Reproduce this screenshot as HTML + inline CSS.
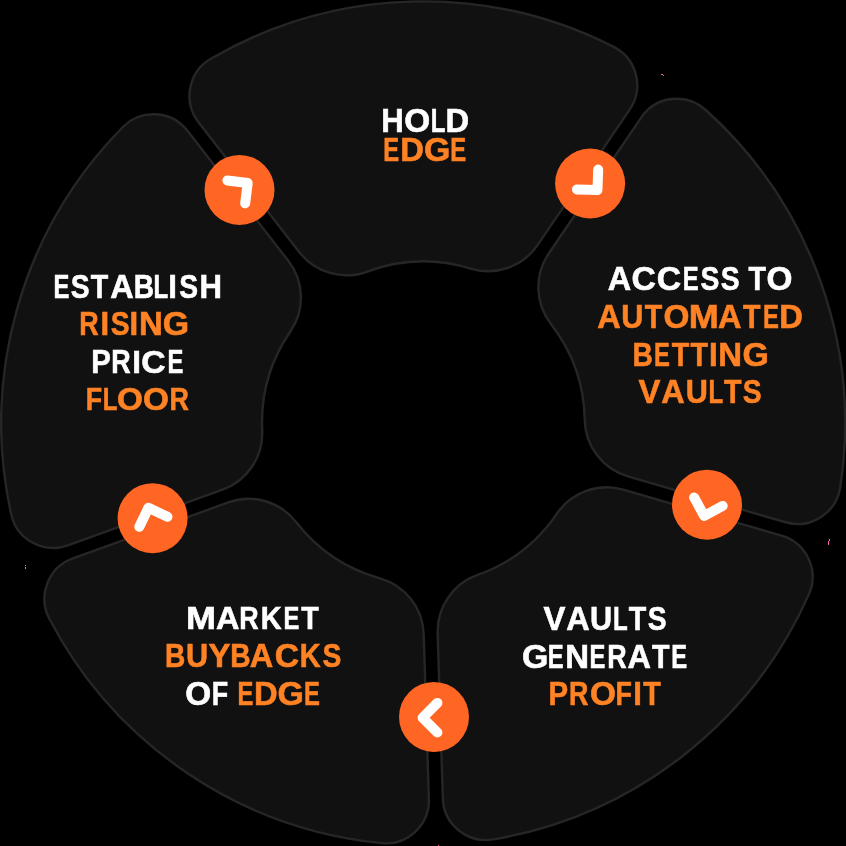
<!DOCTYPE html>
<html><head><meta charset="utf-8"><style>
html,body{margin:0;padding:0;background:#000;}
svg{display:block;will-change:transform;}
text{font-family:"Liberation Sans",sans-serif;font-weight:700;}
</style></head><body>
<svg width="846" height="846" viewBox="0 0 846 846">
<rect width="846" height="846" fill="#000"/>
<g fill="#111111" stroke="#262626" stroke-width="2.4">
<path d="M808.86 594.37 A421.9 421.9 0 0 1 492.94 839.40 A43 43 0 0 1 442.85 798.34 L437.67 633.37 A60.0 60.0 0 0 1 477.52 574.96 A161.4 161.4 0 0 0 556.92 513.57 A60.0 60.0 0 0 1 623.30 489.66 L781.55 535.64 A43 43 0 0 1 808.86 594.37 Z"/>
<path d="M381.65 843.15 A421.9 421.9 0 0 1 49.32 618.78 A43 43 0 0 1 72.86 558.40 L228.35 502.42 A60.0 60.0 0 0 1 296.02 522.02 A161.4 161.4 0 0 0 379.89 578.33 A60.0 60.0 0 0 1 423.69 634.22 L428.87 799.01 A43 43 0 0 1 381.65 843.15 Z"/>
<path d="M11.20 514.15 A421.9 421.9 0 0 1 122.87 126.99 A43 43 0 0 1 187.45 130.84 L288.28 260.82 A60.0 60.0 0 0 1 290.34 331.55 A161.4 161.4 0 0 0 262.17 430.38 A60.0 60.0 0 0 1 222.56 489.62 L67.76 545.35 A43 43 0 0 1 11.20 514.15 Z"/>
<path d="M210.84 58.74 A421.9 421.9 0 0 1 613.65 46.83 A43 43 0 0 1 629.80 109.37 L537.70 244.88 A60.0 60.0 0 0 1 470.55 268.54 A161.4 161.4 0 0 0 367.40 271.53 A60.0 60.0 0 0 1 299.18 252.03 L198.51 122.25 A43 43 0 0 1 210.84 58.74 Z"/>
<path d="M705.50 109.76 A421.9 421.9 0 0 1 840.18 487.51 A43 43 0 0 1 785.69 522.26 L628.02 476.46 A60.0 60.0 0 0 1 584.77 419.94 A161.4 161.4 0 0 0 550.96 324.01 A60.0 60.0 0 0 1 548.76 253.53 L641.17 117.55 A43 43 0 0 1 705.50 109.76 Z"/>
</g>
<g fill="#ff6624">
<circle cx="239.5" cy="189.9" r="35.0"/>
<circle cx="590.1" cy="183.5" r="35.0"/>
<circle cx="707.0" cy="504.7" r="35.0"/>
<circle cx="434.0" cy="716.9" r="35.0"/>
<circle cx="152.6" cy="518.2" r="35.0"/>
</g>
<g fill="none" stroke="#fff" stroke-width="10.0" stroke-linecap="round" stroke-linejoin="round">
<path d="M245.15 203.40 L247.71 183.07 L227.39 180.50"/>
<path d="M576.92 189.40 L597.46 190.12 L598.18 169.58"/>
<path d="M694.13 497.45 L704.17 515.95 L722.67 505.91"/>
<path d="M437.40 702.90 L422.60 717.70 L437.40 732.50"/>
<path d="M167.46 516.81 L148.42 507.73 L139.34 526.77"/>
</g>
<g>
<text transform="translate(381.16 132.20) scale(0.9484 1)" font-size="32.84" fill="#ffffff" stroke="#ffffff" stroke-width="0.600">H</text>
<text transform="translate(404.14 132.20) scale(1.0155 1)" font-size="32.84" fill="#ffffff" stroke="#ffffff" stroke-width="0.600">O</text>
<text transform="translate(430.77 132.20) scale(0.7324 1)" font-size="32.84" fill="#ffffff" stroke="#ffffff" stroke-width="0.600">L</text>
<text transform="translate(445.47 132.20) scale(0.9970 1)" font-size="32.84" fill="#ffffff" stroke="#ffffff" stroke-width="0.600">D</text>
<text transform="translate(383.23 160.80) scale(0.7215 1)" font-size="32.99" fill="#ff8224" stroke="#ff8224" stroke-width="0.600">E</text>
<text transform="translate(400.22 160.80) scale(0.9929 1)" font-size="32.99" fill="#ff8224" stroke="#ff8224" stroke-width="0.600">D</text>
<text transform="translate(423.98 160.80) scale(1.0273 1)" font-size="32.99" fill="#ff8224" stroke="#ff8224" stroke-width="0.600">G</text>
<text transform="translate(450.33 160.80) scale(0.7215 1)" font-size="32.99" fill="#ff8224" stroke="#ff8224" stroke-width="0.600">E</text>
<text transform="translate(53.44 298.00) scale(0.7337 1)" font-size="32.42" fill="#ffffff" stroke="#ffffff" stroke-width="0.600">E</text>
<text transform="translate(70.78 298.00) scale(0.8706 1)" font-size="32.42" fill="#ffffff" stroke="#ffffff" stroke-width="0.600">S</text>
<text transform="translate(90.70 298.00) scale(0.8828 1)" font-size="32.42" fill="#ffffff" stroke="#ffffff" stroke-width="0.600">T</text>
<text transform="translate(110.35 298.00) scale(1.0014 1)" font-size="32.42" fill="#ffffff" stroke="#ffffff" stroke-width="0.600">A</text>
<text transform="translate(133.79 298.00) scale(0.8680 1)" font-size="32.42" fill="#ffffff" stroke="#ffffff" stroke-width="0.600">B</text>
<text transform="translate(153.47 298.00) scale(0.7416 1)" font-size="32.42" fill="#ffffff" stroke="#ffffff" stroke-width="0.600">L</text>
<text transform="translate(168.37 298.00) scale(0.9611 1)" font-size="32.42" fill="#ffffff" stroke="#ffffff" stroke-width="0.600">I</text>
<text transform="translate(179.13 298.00) scale(0.8706 1)" font-size="32.42" fill="#ffffff" stroke="#ffffff" stroke-width="0.600">S</text>
<text transform="translate(199.46 298.00) scale(0.9604 1)" font-size="32.42" fill="#ffffff" stroke="#ffffff" stroke-width="0.600">H</text>
<text transform="translate(79.34 335.20) scale(0.8279 1)" font-size="32.42" fill="#ff8224" stroke="#ff8224" stroke-width="0.600">R</text>
<text transform="translate(100.42 335.20) scale(0.9611 1)" font-size="32.42" fill="#ff8224" stroke="#ff8224" stroke-width="0.600">I</text>
<text transform="translate(110.68 335.20) scale(0.8706 1)" font-size="32.42" fill="#ff8224" stroke="#ff8224" stroke-width="0.600">S</text>
<text transform="translate(129.52 335.20) scale(0.9611 1)" font-size="32.42" fill="#ff8224" stroke="#ff8224" stroke-width="0.600">I</text>
<text transform="translate(139.01 335.20) scale(1.0163 1)" font-size="32.42" fill="#ff8224" stroke="#ff8224" stroke-width="0.600">N</text>
<text transform="translate(162.83 335.20) scale(1.0447 1)" font-size="32.42" fill="#ff8224" stroke="#ff8224" stroke-width="0.600">G</text>
<text transform="translate(91.17 373.00) scale(0.9107 1)" font-size="32.28" fill="#ffffff" stroke="#ffffff" stroke-width="0.600">P</text>
<text transform="translate(111.24 373.00) scale(0.8315 1)" font-size="32.28" fill="#ffffff" stroke="#ffffff" stroke-width="0.600">R</text>
<text transform="translate(132.27 373.00) scale(0.9647 1)" font-size="32.28" fill="#ffffff" stroke="#ffffff" stroke-width="0.600">I</text>
<text transform="translate(141.24 373.00) scale(1.0450 1)" font-size="32.28" fill="#ffffff" stroke="#ffffff" stroke-width="0.600">C</text>
<text transform="translate(167.54 373.00) scale(0.7368 1)" font-size="32.28" fill="#ffffff" stroke="#ffffff" stroke-width="0.600">E</text>
<text transform="translate(85.67 410.40) scale(0.8365 1)" font-size="32.00" fill="#ff8224" stroke="#ff8224" stroke-width="0.600">F</text>
<text transform="translate(102.78 410.40) scale(0.7511 1)" font-size="32.00" fill="#ff8224" stroke="#ff8224" stroke-width="0.600">L</text>
<text transform="translate(116.95 410.40) scale(1.0417 1)" font-size="32.00" fill="#ff8224" stroke="#ff8224" stroke-width="0.600">O</text>
<text transform="translate(143.10 410.40) scale(1.0417 1)" font-size="32.00" fill="#ff8224" stroke="#ff8224" stroke-width="0.600">O</text>
<text transform="translate(169.49 410.40) scale(0.8386 1)" font-size="32.00" fill="#ff8224" stroke="#ff8224" stroke-width="0.600">R</text>
<text transform="translate(607.64 290.40) scale(0.9806 1)" font-size="33.13" fill="#ffffff" stroke="#ffffff" stroke-width="0.600">A</text>
<text transform="translate(631.38 290.40) scale(1.0190 1)" font-size="33.13" fill="#ffffff" stroke="#ffffff" stroke-width="0.600">C</text>
<text transform="translate(656.63 290.40) scale(1.0190 1)" font-size="33.13" fill="#ffffff" stroke="#ffffff" stroke-width="0.600">C</text>
<text transform="translate(682.63 290.40) scale(0.7185 1)" font-size="33.13" fill="#ffffff" stroke="#ffffff" stroke-width="0.600">E</text>
<text transform="translate(700.43 290.40) scale(0.8526 1)" font-size="33.13" fill="#ffffff" stroke="#ffffff" stroke-width="0.600">S</text>
<text transform="translate(720.73 290.40) scale(0.8526 1)" font-size="33.13" fill="#ffffff" stroke="#ffffff" stroke-width="0.600">S</text>
<text transform="translate(748.45 290.40) scale(0.8645 1)" font-size="33.13" fill="#ffffff" stroke="#ffffff" stroke-width="0.600">T</text>
<text transform="translate(766.54 290.40) scale(1.0070 1)" font-size="33.13" fill="#ffffff" stroke="#ffffff" stroke-width="0.600">O</text>
<text transform="translate(597.35 327.90) scale(1.0014 1)" font-size="32.42" fill="#ff8224" stroke="#ff8224" stroke-width="0.600">A</text>
<text transform="translate(621.35 327.90) scale(0.9450 1)" font-size="32.42" fill="#ff8224" stroke="#ff8224" stroke-width="0.600">U</text>
<text transform="translate(644.75 327.90) scale(0.8828 1)" font-size="32.42" fill="#ff8224" stroke="#ff8224" stroke-width="0.600">T</text>
<text transform="translate(663.45 327.90) scale(1.0284 1)" font-size="32.42" fill="#ff8224" stroke="#ff8224" stroke-width="0.600">O</text>
<text transform="translate(688.76 327.90) scale(1.1102 1)" font-size="32.42" fill="#ff8224" stroke="#ff8224" stroke-width="0.600">M</text>
<text transform="translate(718.10 327.90) scale(1.0014 1)" font-size="32.42" fill="#ff8224" stroke="#ff8224" stroke-width="0.600">A</text>
<text transform="translate(743.05 327.90) scale(0.8828 1)" font-size="32.42" fill="#ff8224" stroke="#ff8224" stroke-width="0.600">T</text>
<text transform="translate(762.94 327.90) scale(0.7337 1)" font-size="32.42" fill="#ff8224" stroke="#ff8224" stroke-width="0.600">E</text>
<text transform="translate(779.27 327.90) scale(1.0097 1)" font-size="32.42" fill="#ff8224" stroke="#ff8224" stroke-width="0.600">D</text>
<text transform="translate(632.53 365.50) scale(0.8572 1)" font-size="32.84" fill="#ff8224" stroke="#ff8224" stroke-width="0.600">B</text>
<text transform="translate(653.98 365.50) scale(0.7245 1)" font-size="32.84" fill="#ff8224" stroke="#ff8224" stroke-width="0.600">E</text>
<text transform="translate(671.75 365.50) scale(0.8717 1)" font-size="32.84" fill="#ff8224" stroke="#ff8224" stroke-width="0.600">T</text>
<text transform="translate(690.60 365.50) scale(0.8717 1)" font-size="32.84" fill="#ff8224" stroke="#ff8224" stroke-width="0.600">T</text>
<text transform="translate(708.96 365.50) scale(0.9505 1)" font-size="32.84" fill="#ff8224" stroke="#ff8224" stroke-width="0.600">I</text>
<text transform="translate(718.16 365.50) scale(1.0036 1)" font-size="32.84" fill="#ff8224" stroke="#ff8224" stroke-width="0.600">N</text>
<text transform="translate(742.48 365.50) scale(1.0316 1)" font-size="32.84" fill="#ff8224" stroke="#ff8224" stroke-width="0.600">G</text>
<text transform="translate(638.48 403.00) scale(1.0011 1)" font-size="32.84" fill="#ff8224" stroke="#ff8224" stroke-width="0.600">V</text>
<text transform="translate(661.35 403.00) scale(0.9889 1)" font-size="32.84" fill="#ff8224" stroke="#ff8224" stroke-width="0.600">A</text>
<text transform="translate(685.65 403.00) scale(0.9332 1)" font-size="32.84" fill="#ff8224" stroke="#ff8224" stroke-width="0.600">U</text>
<text transform="translate(708.62 403.00) scale(0.7324 1)" font-size="32.84" fill="#ff8224" stroke="#ff8224" stroke-width="0.600">L</text>
<text transform="translate(724.00 403.00) scale(0.8717 1)" font-size="32.84" fill="#ff8224" stroke="#ff8224" stroke-width="0.600">T</text>
<text transform="translate(742.73 403.00) scale(0.8597 1)" font-size="32.84" fill="#ff8224" stroke="#ff8224" stroke-width="0.600">S</text>
<text transform="translate(186.01 629.20) scale(1.1197 1)" font-size="32.14" fill="#ffffff" stroke="#ffffff" stroke-width="0.600">M</text>
<text transform="translate(215.90 629.20) scale(1.0100 1)" font-size="32.14" fill="#ffffff" stroke="#ffffff" stroke-width="0.600">A</text>
<text transform="translate(239.29 629.20) scale(0.8350 1)" font-size="32.14" fill="#ffffff" stroke="#ffffff" stroke-width="0.600">R</text>
<text transform="translate(260.65 629.20) scale(0.8981 1)" font-size="32.14" fill="#ffffff" stroke="#ffffff" stroke-width="0.600">K</text>
<text transform="translate(283.54 629.20) scale(0.7399 1)" font-size="32.14" fill="#ffffff" stroke="#ffffff" stroke-width="0.600">E</text>
<text transform="translate(301.30 629.20) scale(0.8903 1)" font-size="32.14" fill="#ffffff" stroke="#ffffff" stroke-width="0.600">T</text>
<text transform="translate(164.93 667.00) scale(0.8644 1)" font-size="32.56" fill="#ff8224" stroke="#ff8224" stroke-width="0.600">B</text>
<text transform="translate(186.05 667.00) scale(0.9410 1)" font-size="32.56" fill="#ff8224" stroke="#ff8224" stroke-width="0.600">U</text>
<text transform="translate(208.45 667.00) scale(1.0115 1)" font-size="32.56" fill="#ff8224" stroke="#ff8224" stroke-width="0.600">Y</text>
<text transform="translate(230.13 667.00) scale(0.8644 1)" font-size="32.56" fill="#ff8224" stroke="#ff8224" stroke-width="0.600">B</text>
<text transform="translate(249.70 667.00) scale(0.9972 1)" font-size="32.56" fill="#ff8224" stroke="#ff8224" stroke-width="0.600">A</text>
<text transform="translate(274.64 667.00) scale(1.0362 1)" font-size="32.56" fill="#ff8224" stroke="#ff8224" stroke-width="0.600">C</text>
<text transform="translate(299.84 667.00) scale(0.8867 1)" font-size="32.56" fill="#ff8224" stroke="#ff8224" stroke-width="0.600">K</text>
<text transform="translate(322.53 667.00) scale(0.8670 1)" font-size="32.56" fill="#ff8224" stroke="#ff8224" stroke-width="0.600">S</text>
<text transform="translate(185.14 704.60) scale(1.0028 1)" font-size="33.27" fill="#ffffff" stroke="#ffffff" stroke-width="0.600">O</text>
<text transform="translate(211.76 704.60) scale(0.8057 1)" font-size="33.27" fill="#ffffff" stroke="#ffffff" stroke-width="0.600">F</text>
<text transform="translate(237.43 704.60) scale(0.7156 1)" font-size="33.27" fill="#ff8224" stroke="#ff8224" stroke-width="0.600">E</text>
<text transform="translate(253.96 704.60) scale(0.9847 1)" font-size="33.27" fill="#ff8224" stroke="#ff8224" stroke-width="0.600">D</text>
<text transform="translate(277.57 704.60) scale(1.0188 1)" font-size="33.27" fill="#ff8224" stroke="#ff8224" stroke-width="0.600">G</text>
<text transform="translate(303.93 704.60) scale(0.7156 1)" font-size="33.27" fill="#ff8224" stroke="#ff8224" stroke-width="0.600">E</text>
<text transform="translate(543.58 630.40) scale(1.0011 1)" font-size="32.84" fill="#ffffff" stroke="#ffffff" stroke-width="0.600">V</text>
<text transform="translate(566.20 630.40) scale(0.9889 1)" font-size="32.84" fill="#ffffff" stroke="#ffffff" stroke-width="0.600">A</text>
<text transform="translate(589.95 630.40) scale(0.9332 1)" font-size="32.84" fill="#ffffff" stroke="#ffffff" stroke-width="0.600">U</text>
<text transform="translate(613.12 630.40) scale(0.7324 1)" font-size="32.84" fill="#ffffff" stroke="#ffffff" stroke-width="0.600">L</text>
<text transform="translate(628.85 630.40) scale(0.8717 1)" font-size="32.84" fill="#ffffff" stroke="#ffffff" stroke-width="0.600">T</text>
<text transform="translate(647.73 630.40) scale(0.8597 1)" font-size="32.84" fill="#ffffff" stroke="#ffffff" stroke-width="0.600">S</text>
<text transform="translate(521.88 667.80) scale(1.0316 1)" font-size="32.84" fill="#ffffff" stroke="#ffffff" stroke-width="0.600">G</text>
<text transform="translate(547.73 667.80) scale(0.7245 1)" font-size="32.84" fill="#ffffff" stroke="#ffffff" stroke-width="0.600">E</text>
<text transform="translate(565.21 667.80) scale(1.0036 1)" font-size="32.84" fill="#ffffff" stroke="#ffffff" stroke-width="0.600">N</text>
<text transform="translate(589.58 667.80) scale(0.7245 1)" font-size="32.84" fill="#ffffff" stroke="#ffffff" stroke-width="0.600">E</text>
<text transform="translate(607.33 667.80) scale(0.8176 1)" font-size="32.84" fill="#ffffff" stroke="#ffffff" stroke-width="0.600">R</text>
<text transform="translate(627.55 667.80) scale(0.9889 1)" font-size="32.84" fill="#ffffff" stroke="#ffffff" stroke-width="0.600">A</text>
<text transform="translate(652.00 667.80) scale(0.8717 1)" font-size="32.84" fill="#ffffff" stroke="#ffffff" stroke-width="0.600">T</text>
<text transform="translate(671.33 667.80) scale(0.7245 1)" font-size="32.84" fill="#ffffff" stroke="#ffffff" stroke-width="0.600">E</text>
<text transform="translate(548.46 705.30) scale(0.9068 1)" font-size="32.42" fill="#ff8224" stroke="#ff8224" stroke-width="0.600">P</text>
<text transform="translate(568.94 705.30) scale(0.8279 1)" font-size="32.42" fill="#ff8224" stroke="#ff8224" stroke-width="0.600">R</text>
<text transform="translate(590.00 705.30) scale(1.0284 1)" font-size="32.42" fill="#ff8224" stroke="#ff8224" stroke-width="0.600">O</text>
<text transform="translate(615.42 705.30) scale(0.8260 1)" font-size="32.42" fill="#ff8224" stroke="#ff8224" stroke-width="0.600">F</text>
<text transform="translate(633.27 705.30) scale(0.9611 1)" font-size="32.42" fill="#ff8224" stroke="#ff8224" stroke-width="0.600">I</text>
<text transform="translate(643.30 705.30) scale(0.8828 1)" font-size="32.42" fill="#ff8224" stroke="#ff8224" stroke-width="0.600">T</text>
</g>
<g fill="#ff66b0">
<rect x="661" y="74" width="2" height="1"/><rect x="663" y="75" width="1" height="1"/>
<rect x="828" y="541" width="1" height="4"/><rect x="829" y="539" width="1" height="2"/>
<rect x="25" y="565" width="1" height="1"/><rect x="25" y="567" width="1" height="2"/>
<rect x="438" y="845" width="1" height="1"/>
</g>
</svg>
</body></html>
